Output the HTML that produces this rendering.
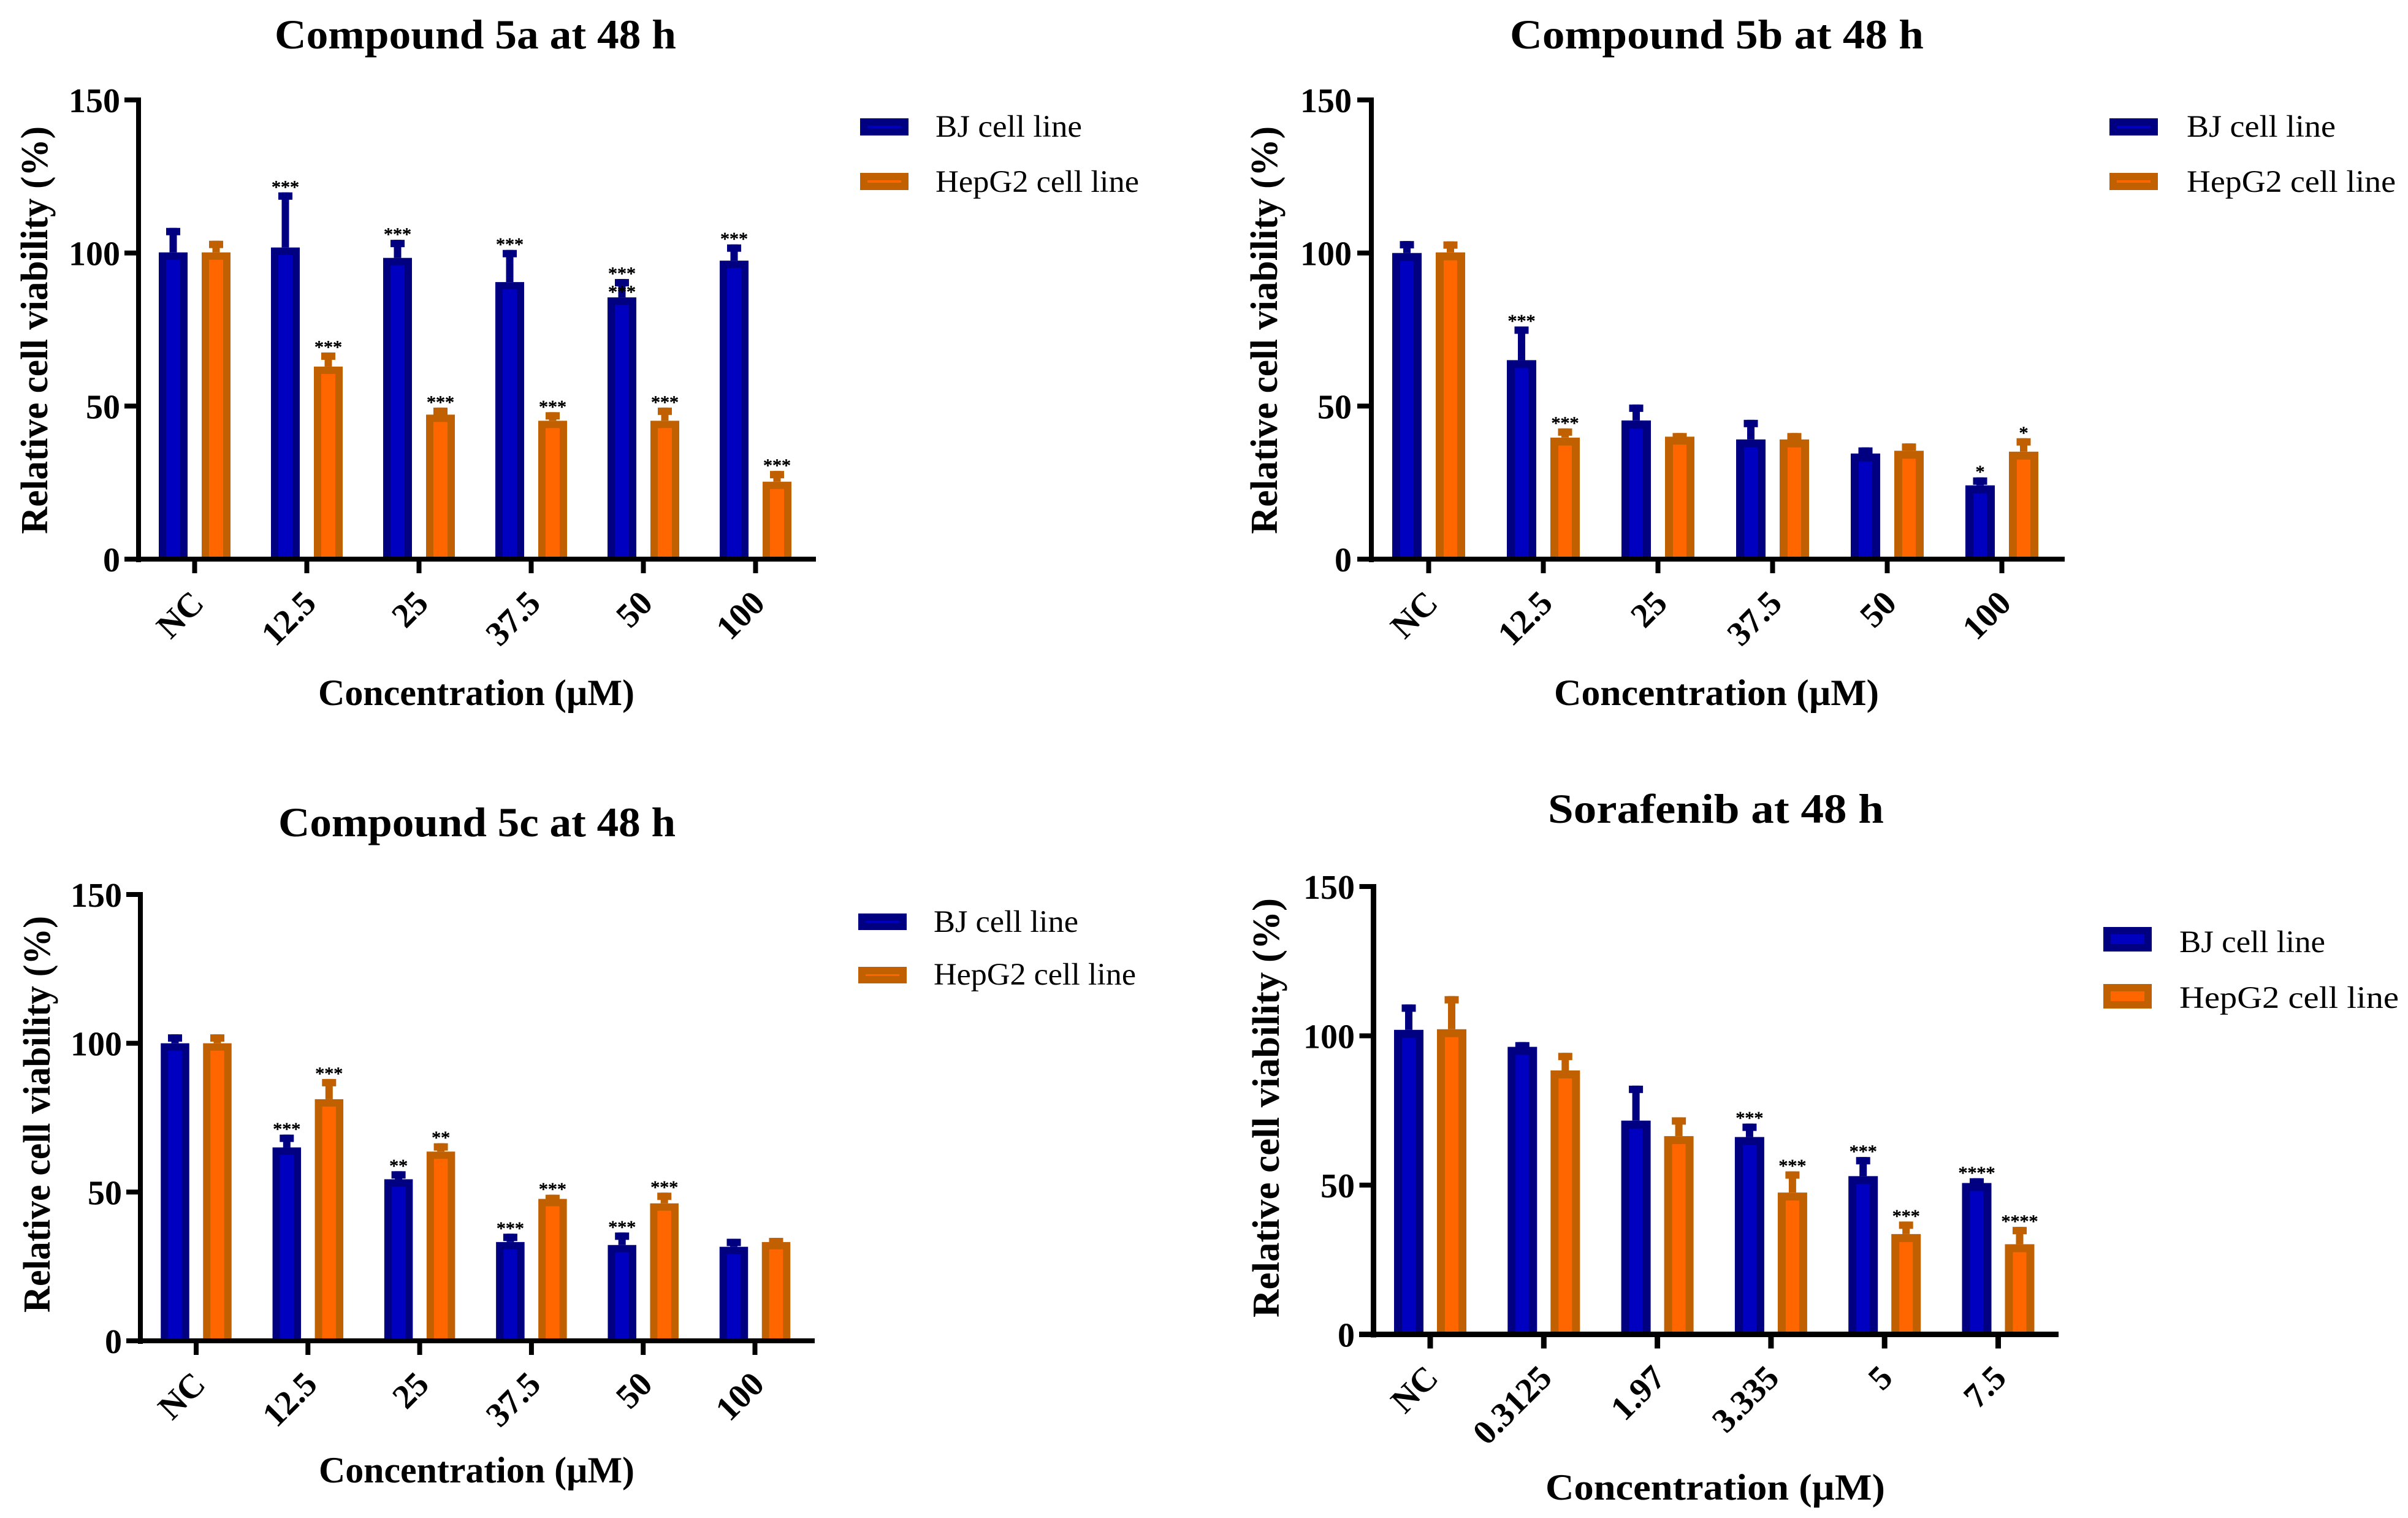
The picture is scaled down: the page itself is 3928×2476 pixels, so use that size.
<!DOCTYPE html>
<html lang="en">
<head>
<meta charset="utf-8">
<title>Relative cell viability at 48 h</title>
<style>
html,body{margin:0;padding:0;background:#fff;}
svg{display:block;}
text{font-family:"Liberation Serif",serif;fill:#000;}
</style>
</head>
<body>
<svg id="figure" xmlns="http://www.w3.org/2000/svg" width="3928" height="2476" viewBox="0 0 3928 2476"></svg>
<script>
const yTickValues = [0, 50, 100, 150];
const seriesNames = ["BJ cell line", "HepG2 cell line"];
const compoundCategories = ["NC", "12.5", "25", "37.5", "50", "100"];
const sorafenibCategories = ["NC", "0.3125", "1.97", "3.335", "5", "7.5"];

const a5Bj = [100.2, 101.8, 98.4, 90.5, 85.5, 97.5];
const a5BjErr = [8, 18, 5.9, 10.5, 6, 5.3];
const a5Hep = [100.2, 62.9, 47.2, 45.2, 45.2, 25.3];
const a5HepErr = [3.8, 4.6, 2.3, 2.8, 4.3, 3.5];
const a5BjStars = ["", "***", "***", "***", "***", "***"];
const a5HepStars = ["", "***", "***", "***", "***", "***"];
const a5BjBarStars = ["", "", "", "", "***", ""];

const b5Bj = [100, 65, 45.3, 39.1, 34.5, 24.1];
const b5BjErr = [3.9, 11, 5.2, 6.4, 2, 2.6];
const b5Hep = [100.2, 39.7, 40, 39.1, 35.4, 35.1];
const b5HepErr = [3.6, 3, 1.2, 2.1, 2.4, 4.4];
const b5BjStars = ["", "***", "", "", "", "*"];
const b5HepStars = ["", "***", "", "", "", "*"];

const c5Bj = [100, 65, 54.3, 33.2, 32.2, 31.6];
const c5BjErr = [3, 4.3, 2.7, 2.8, 4.2, 2.7];
const c5Hep = [100, 81.2, 63.6, 47.7, 46.2, 33.2];
const c5HepErr = [3, 6.8, 2.8, 1.4, 3.6, 1.4];
const c5BjStars = ["", "***", "**", "***", "***", ""];
const c5HepStars = ["", "***", "**", "***", "***", ""];

const sorBj = [102, 96.3, 71.6, 66.1, 53, 50.7];
const sorBjErr = [8.5, 1.6, 11.7, 4.5, 6.4, 1.6];
const sorHep = [102.2, 88.4, 66.4, 47.5, 33.6, 30.2];
const sorHepErr = [11.1, 5.9, 6.3, 7.1, 4.2, 5.8];
const sorBjStars = ["", "", "", "***", "***", "****"];
const sorHepStars = ["", "", "", "***", "***", "****"];

const noStars = ["", "", "", "", "", ""];
const seriesColors = {
  bj: {edge: "#000080", fill: "#0000c0"},
  hep: {edge: "#c06000", fill: "#ff6600"}
};
const svgNs = "http://www.w3.org/2000/svg";
const figure = document.getElementById("figure");

function makeRect(parent, x, y, w, h, color) {
  const r = document.createElementNS(svgNs, "rect");
  r.setAttribute("x", x);
  r.setAttribute("y", y);
  r.setAttribute("width", w);
  r.setAttribute("height", h);
  r.setAttribute("fill", color);
  parent.appendChild(r);
  return r;
}

function makeText(parent, str, x, y, size, bold, anchor, fitWidth, transform) {
  const t = document.createElementNS(svgNs, "text");
  t.setAttribute("x", x);
  t.setAttribute("y", y);
  t.setAttribute("font-size", size);
  if (bold) t.setAttribute("font-weight", "bold");
  t.setAttribute("text-anchor", anchor);
  if (fitWidth) {
    t.setAttribute("textLength", fitWidth);
    t.setAttribute("lengthAdjust", "spacingAndGlyphs");
  }
  if (transform) t.setAttribute("transform", transform);
  t.textContent = str;
  parent.appendChild(t);
  return t;
}

function drawStars(parent, str, x, y) {
  const st = makeText(parent, str, x, y, 30, false, "middle");
  st.setAttribute("stroke", "#000");
  st.setAttribute("stroke-width", "0.8");
  return st;
}

function drawPanel(p) {
  const g = document.createElementNS(svgNs, "g");
  
  
  figure.appendChild(g);

  const yScale = v => p.y0 - (v / 150) * (p.y0 - p.y150);
  const xCenter = i => p.firstX + i * p.stepX;
  const xBar = (i, s) => xCenter(i) + (s === 0 ? -p.barOff : p.barOff);
  const barW = p.barW, edge = p.edge, capW = 23, capH = 12, stemW = 12;

  const title = makeText(g, p.title, p.titleX, p.titleY, 68, true, "start", p.titleW);
  
  

  const seriesList = [
    {key: "bj", vals: p.bj, errs: p.bjErr, stars: p.bjStars, barStars: p.bjBarStars || noStars},
    {key: "hep", vals: p.hep, errs: p.hepErr, stars: p.hepStars, barStars: noStars}
  ];
  seriesList.forEach((s, si) => {
    const color = seriesColors[s.key];
    s.vals.forEach((v, i) => {
      const cx = xBar(i, si);
      const top = yScale(v);
      const capTop = yScale(v + s.errs[i]);
      const stem = makeRect(g, cx - stemW / 2, capTop, stemW, Math.max(top - capTop, 0), color.edge);
      
      
      const cap = makeRect(g, cx - capW / 2, capTop, capW, capH, color.edge);
      
      
      const bar = makeRect(g, cx - barW / 2, top, barW, p.y0 - top, color.edge);
      
      
      const inner = makeRect(g, cx - barW / 2 + edge, top + edge, barW - 2 * edge, Math.max(p.y0 - top - edge, 0), color.fill);
      
      
      if (s.stars[i]) {
        const st = drawStars(g, s.stars[i], cx, capTop + 1);
        
        
      }
      if (s.barStars[i]) {
        const st2 = drawStars(g, s.barStars[i], cx, top + 1);
        
        
      }
    });
  });

  const yAxis = makeRect(g, p.axisX - p.thick / 2, p.y150 - 4, p.thick, p.y0 - p.y150 + 9, "#000");
  
  
  const xAxis = makeRect(g, p.xAxisL, p.y0 - p.thick / 2, p.xAxisR - p.xAxisL, p.thick, "#000");
  
  

  yTickValues.forEach(v => {
    const y = yScale(v);
    const tick = makeRect(g, p.axisX - 23, y - 4, 23, 8, "#000");
    
    
    const lab = makeText(g, String(v), p.yLabelR, y + 20, 56, true, "end");
    
    
  });

  p.categories.forEach((c, i) => {
    const x = xCenter(i);
    const tick = makeRect(g, x - p.thick / 2, p.y0, p.thick, 23, "#000");
    
    
    const lx = x + p.labelDx, ly = p.y0 + p.labelDy;
    const lab = makeText(g, c, lx, ly, 56, true, "end", null, "rotate(-45 " + lx + " " + ly + ")");
    
    
  });

  const yT = makeText(g, "Relative cell viability (%)", p.yTitleX, p.yTitleMid, 62, true, "middle", p.yTitleLen,
    "rotate(-90 " + p.yTitleX + " " + p.yTitleMid + ")");
  
  

  const xT = makeText(g, "Concentration (\u00B5M)", p.xTitleX, p.xTitleY, 60, true, "start", p.xTitleW);
  
  

  const swatchInset = 12;
  const s1 = makeRect(g, p.legX, p.leg1Y, 79, p.legH, seriesColors.bj.edge);
  
  
  const s1i = makeRect(g, p.legX + swatchInset, p.leg1Y + swatchInset, 55, p.legH - 2 * swatchInset, seriesColors.bj.fill);
  
  
  const s2 = makeRect(g, p.legX, p.leg2Y, 79, p.legH, seriesColors.hep.edge);
  
  
  const s2i = makeRect(g, p.legX + swatchInset, p.leg2Y + swatchInset, 55, p.legH - 2 * swatchInset, seriesColors.hep.fill);
  
  
  const l1 = makeText(g, seriesNames[0], p.legTextX, p.leg1Base, 51, false, "start", p.leg1W);
  
  
  const l2 = makeText(g, seriesNames[1], p.legTextX, p.leg2Base, 51, false, "start", p.leg2W);
  
  
}

drawPanel({
  name: "panel-compound-5a", title: "Compound 5a at 48 h", titleX: 448, titleY: 79, titleW: 655,
  categories: compoundCategories, bj: a5Bj, bjErr: a5BjErr, hep: a5Hep, hepErr: a5HepErr,
  bjStars: a5BjStars, hepStars: a5HepStars, bjBarStars: a5BjBarStars,
  axisX: 226, y0: 912, y150: 163, xAxisL: 203, xAxisR: 1331, firstX: 317.5, stepX: 183,
  barW: 47, edge: 12, barOff: 35, thick: 8, labelDx: 18, labelDy: 75,
  yLabelR: 196, yTitleX: 77, yTitleMid: 538.5, yTitleLen: 665,
  xTitleX: 519, xTitleY: 1150, xTitleW: 516,
  legX: 1403, legH: 28, leg1Y: 193, leg2Y: 282, legTextX: 1526, leg1Base: 223, leg2Base: 313, leg1W: 239, leg2W: 332
});
drawPanel({
  name: "panel-compound-5b", title: "Compound 5b at 48 h", titleX: 2463, titleY: 79, titleW: 675,
  categories: compoundCategories, bj: b5Bj, bjErr: b5BjErr, hep: b5Hep, hepErr: b5HepErr,
  bjStars: b5BjStars, hepStars: b5HepStars,
  axisX: 2237, y0: 912, y150: 163, xAxisL: 2214, xAxisR: 3368, firstX: 2330.5, stepX: 187,
  barW: 48, edge: 13, barOff: 35.5, thick: 8, labelDx: 18, labelDy: 75,
  yLabelR: 2205, yTitleX: 2083, yTitleMid: 538.5, yTitleLen: 665,
  xTitleX: 2535, xTitleY: 1150, xTitleW: 530,
  legX: 3441, legH: 28, leg1Y: 193, leg2Y: 282, legTextX: 3567, leg1Base: 223, leg2Base: 313, leg1W: 243, leg2W: 341
});
drawPanel({
  name: "panel-compound-5c", title: "Compound 5c at 48 h", titleX: 454, titleY: 1364, titleW: 648,
  categories: compoundCategories, bj: c5Bj, bjErr: c5BjErr, hep: c5Hep, hepErr: c5HepErr,
  bjStars: c5BjStars, hepStars: c5HepStars,
  axisX: 229, y0: 2187, y150: 1459, xAxisL: 207, xAxisR: 1329, firstX: 320, stepX: 182.3,
  barW: 46.5, edge: 12, barOff: 34.5, thick: 8, labelDx: 18, labelDy: 74,
  yLabelR: 199, yTitleX: 81, yTitleMid: 1817.5, yTitleLen: 647,
  xTitleX: 520, xTitleY: 2418, xTitleW: 515,
  legX: 1400, legH: 27, leg1Y: 1490, leg2Y: 1577, legTextX: 1523, leg1Base: 1520, leg2Base: 1606, leg1W: 236, leg2W: 330
});
drawPanel({
  name: "panel-sorafenib", title: "Sorafenib at 48 h", titleX: 2525, titleY: 1342, titleW: 548,
  categories: sorafenibCategories, bj: sorBj, bjErr: sorBjErr, hep: sorHep, hepErr: sorHepErr,
  bjStars: sorBjStars, hepStars: sorHepStars,
  axisX: 2240.5, y0: 2176.5, y150: 1446, xAxisL: 2217, xAxisR: 3358, firstX: 2333, stepX: 185.3,
  barW: 48, edge: 13, barOff: 35, thick: 9, labelDx: 16, labelDy: 74,
  yLabelR: 2210, yTitleX: 2086, yTitleMid: 1807, yTitleLen: 684,
  xTitleX: 2521, xTitleY: 2446, xTitleW: 554,
  legX: 3431, legH: 40, leg1Y: 1512, leg2Y: 1605, legTextX: 3555, leg1Base: 1553, leg2Base: 1644, leg1W: 238, leg2W: 358
});
</script>
</body>
</html>
